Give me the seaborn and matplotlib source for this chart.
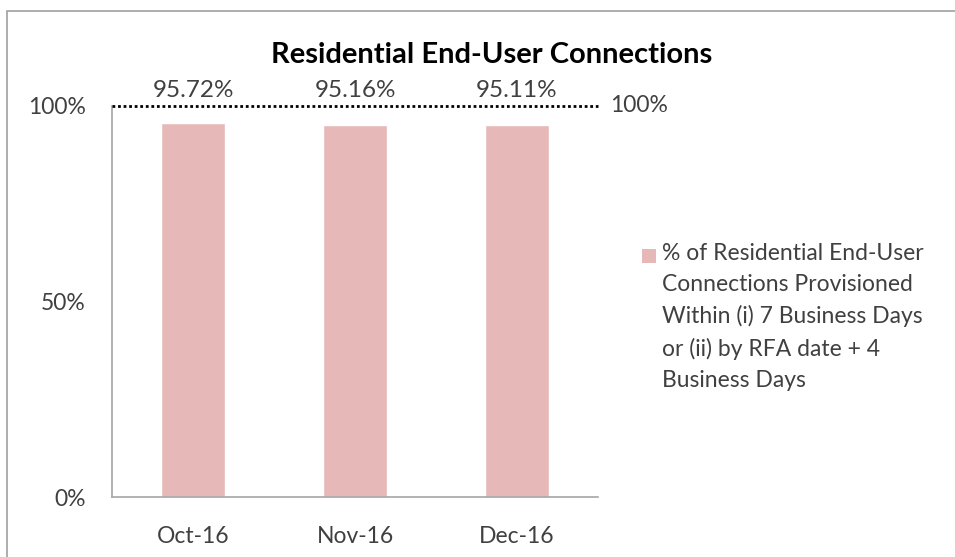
import matplotlib
matplotlib.use("Agg")
import matplotlib.pyplot as plt
from matplotlib.patches import Rectangle
from matplotlib.ticker import FuncFormatter
import pandas as pd
import seaborn as sns

# chart data
months = ["Oct-16", "Nov-16", "Dec-16"]
pct_provisioned = [95.72, 95.16, 95.11]
target_pct = 100
series_name = ("% of Residential End-User\nConnections Provisioned\n"
               "Within (i) 7 Business Days\nor (ii) by RFA date + 4\nBusiness Days")
title = "Residential End-User Connections"

BAR_COLOR = "#E6B9B8"
TEXT_COLOR = "#404040"
FS = 16.5


def main():
    sns.set_style("white")
    plt.rcParams["font.family"] = ["Lato", "DejaVu Sans"]

    df = pd.DataFrame({"month": months, "pct": pct_provisioned})

    fig = plt.figure(figsize=(9.55, 5.57), dpi=100)
    ax = fig.add_axes([112 / 955, 60 / 557, 486 / 955, 391 / 557])

    sns.barplot(df, x="month", y="pct", color=BAR_COLOR, width=0.4,
                saturation=1, ax=ax)

    # target line
    ax.axhline(target_pct, color="black", linestyle=(0, (1, 1)), lw=2,
               clip_on=False, zorder=3)
    ax.text(1.025, target_pct, f"{target_pct}%", transform=ax.get_yaxis_transform(),
            ha="left", va="center", fontsize=FS, color=TEXT_COLOR)

    # data labels
    for i, v in enumerate(pct_provisioned):
        ax.text(i, target_pct + 1.4, f"{v:.2f}%", ha="center", va="bottom",
                fontsize=17.5, color=TEXT_COLOR, clip_on=False)

    ax.set_ylim(0, 100)
    ax.set_xlim(-0.5, 2.5)
    ax.set_yticks([0, 50, 100])
    ax.yaxis.set_major_formatter(FuncFormatter(lambda v, p: f"{v:.0f}%"))
    ax.set_xlabel("")
    ax.set_ylabel("")
    ax.tick_params(axis="both", length=0, labelsize=FS, colors=TEXT_COLOR)
    ax.tick_params(axis="y", pad=19)
    ax.tick_params(axis="x", pad=21)

    sns.despine(ax=ax, top=True, right=True)
    for side in ["left", "bottom"]:
        ax.spines[side].set_color("#A6A6A6")
        ax.spines[side].set_linewidth(1.2)

    fig.text(492 / 955, 1 - 55 / 557, title, ha="center", va="center", fontsize=21,
             fontweight="bold", color="black")

    # legend
    fig.patches.append(Rectangle((642 / 955, 1 - 263 / 557), 14 / 955, 14 / 557,
                                 transform=fig.transFigure, facecolor=BAR_COLOR,
                                 edgecolor="none"))
    fig.text(662 / 955, 1 - 243 / 557, series_name, ha="left", va="top",
             fontsize=FS, color=TEXT_COLOR, linespacing=1.58,
             multialignment="left")

    # outer chart border
    fig.patches.append(Rectangle((7 / 955, -0.05), 1.1, 1 - 11 / 557 + 0.05,
                                 transform=fig.transFigure, facecolor="none",
                                 edgecolor="#A0A0A0", lw=1.2))

    fig.savefig("out.png", dpi=100)


if __name__ == "__main__":
    main()
